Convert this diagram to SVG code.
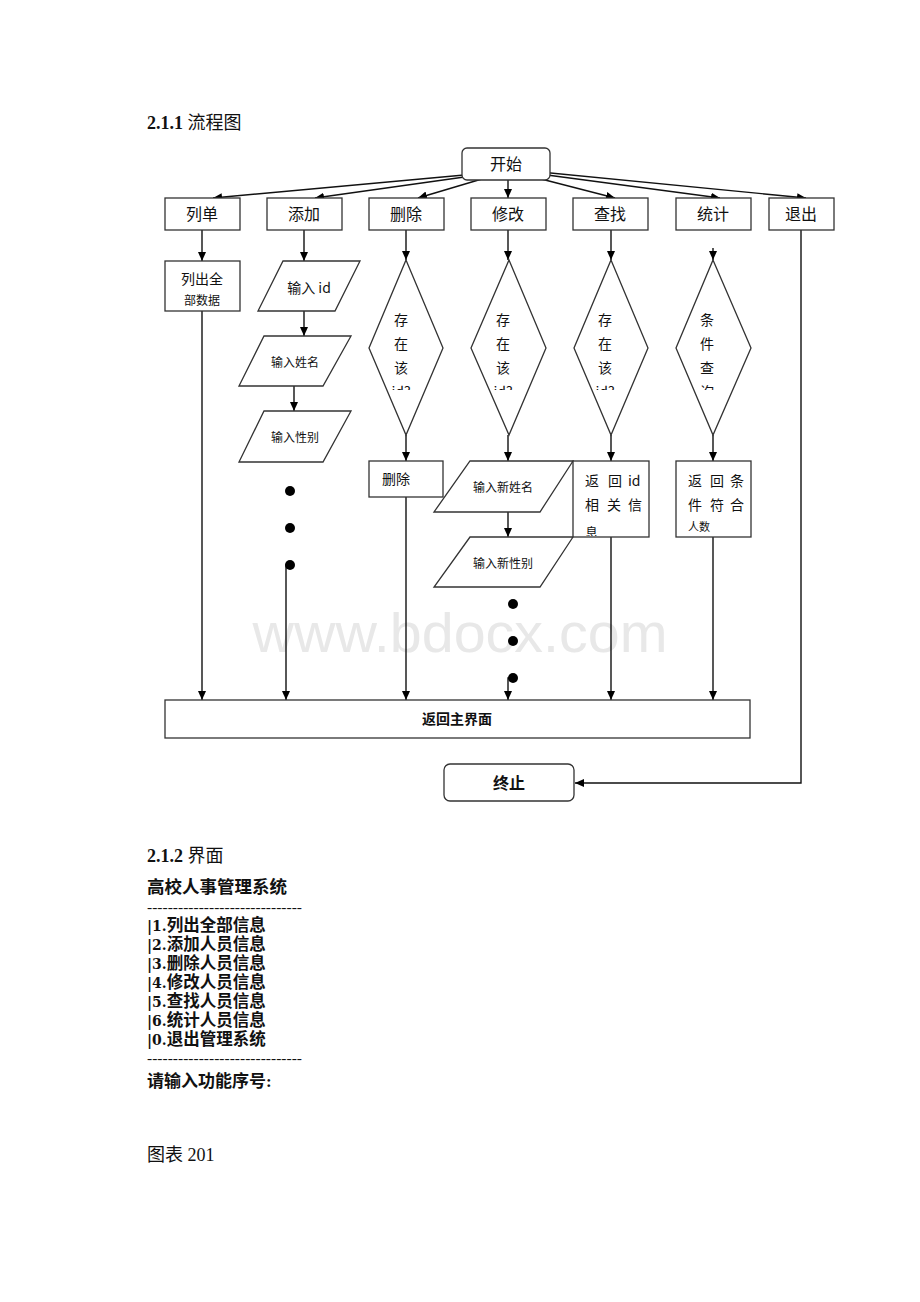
<svg xmlns="http://www.w3.org/2000/svg" width="920" height="1302" viewBox="0 0 920 1302">
<style>
.bx{fill:#fff;stroke:#333;stroke-width:1.3}
.ln{fill:none;stroke:#111;stroke-width:1.4}
.t{font-family:"Noto Sans CJK SC","DejaVu Sans",sans-serif;fill:#111}
.s16{font-size:16px}
.s14{font-size:14px}
.s12{font-size:12px}
.b{font-weight:bold}
.serif{font-family:"Liberation Serif","Noto Sans CJK SC",serif;fill:#111}
.pf{font-family:"DejaVu Serif","Liberation Serif",serif;font-size:14px}
.dash{font-size:12px}
.dot{fill:#000}
</style>
<defs>
<marker id="ah" markerWidth="10" markerHeight="10" refX="9" refY="5" orient="auto" markerUnits="userSpaceOnUse"><path d="M0,1 L9,5 L0,9 z" fill="#000"/></marker>
<clipPath id="cd"><rect x="360" y="300" width="400" height="90"/></clipPath>
<clipPath id="cb"><rect x="560" y="460" width="200" height="76"/></clipPath>
</defs>
<rect width="920" height="1302" fill="#fff"/>
<text x="460" y="652" text-anchor="middle" font-family="Liberation Sans,sans-serif" font-size="56" fill="#e8e8e8" textLength="415" lengthAdjust="spacingAndGlyphs">www.bdocx.com</text>
<text class="serif" x="147" y="129" font-size="18"><tspan font-weight="bold">2.1.1</tspan> 流程图</text>
<g id="connectors">
<path class="ln" d="M497,172 L213,198" marker-end="url(#ah)"/>
<path class="ln" d="M500,172 L315,198" marker-end="url(#ah)"/>
<path class="ln" d="M502,173 L418,198" marker-end="url(#ah)"/>
<path class="ln" d="M508,172 L508,198" marker-end="url(#ah)"/>
<path class="ln" d="M514,172 L615,198" marker-end="url(#ah)"/>
<path class="ln" d="M517,171 L720,198" marker-end="url(#ah)"/>
<path class="ln" d="M520,170 L806,198" marker-end="url(#ah)"/>
<path class="ln" d="M202,230 L202,261" marker-end="url(#ah)"/>
<path class="ln" d="M304,230 L304,261" marker-end="url(#ah)"/>
<path class="ln" d="M406,230 L406,260" marker-end="url(#ah)"/>
<path class="ln" d="M508,230 L508,260" marker-end="url(#ah)"/>
<path class="ln" d="M611,230 L611,260" marker-end="url(#ah)"/>
<path class="ln" d="M713,248 L713,260" marker-end="url(#ah)"/>
<path class="ln" d="M304,311 L304,336" marker-end="url(#ah)"/>
<path class="ln" d="M294,386 L294,411" marker-end="url(#ah)"/>
<path class="ln" d="M406,435 L406,461" marker-end="url(#ah)"/>
<path class="ln" d="M508,435 L508,461" marker-end="url(#ah)"/>
<path class="ln" d="M611,435 L611,461" marker-end="url(#ah)"/>
<path class="ln" d="M713,435 L713,461" marker-end="url(#ah)"/>
<path class="ln" d="M508,512 L508,537" marker-end="url(#ah)"/>
<path class="ln" d="M202,311 L202,700" marker-end="url(#ah)"/>
<path class="ln" d="M290,565 L286,565 L286,700" marker-end="url(#ah)"/>
<path class="ln" d="M406,497 L406,700" marker-end="url(#ah)"/>
<path class="ln" d="M513,678 L508,678 L508,700" marker-end="url(#ah)"/>
<path class="ln" d="M611,537 L611,700" marker-end="url(#ah)"/>
<path class="ln" d="M713,537 L713,700" marker-end="url(#ah)"/>
<path class="ln" d="M801,230 L801,783 L575,783" marker-end="url(#ah)"/>
</g>
<g id="start"><rect class="bx" x="462" y="148" width="88" height="32" rx="5"/><text class="t s16" x="506" y="170" text-anchor="middle">开始</text></g>
<g id="n-list"><rect class="bx" x="165" y="198" width="75" height="32"/><text class="t s16" x="202" y="220" text-anchor="middle">列单</text></g>
<g id="n-add"><rect class="bx" x="267" y="198" width="75" height="32"/><text class="t s16" x="304" y="220" text-anchor="middle">添加</text></g>
<g id="n-del"><rect class="bx" x="369" y="198" width="75" height="32"/><text class="t s16" x="406" y="220" text-anchor="middle">删除</text></g>
<g id="n-mod"><rect class="bx" x="471" y="198" width="75" height="32"/><text class="t s16" x="508" y="220" text-anchor="middle">修改</text></g>
<g id="n-find"><rect class="bx" x="573" y="198" width="75" height="32"/><text class="t s16" x="610" y="220" text-anchor="middle">查找</text></g>
<g id="n-stat"><rect class="bx" x="676" y="198" width="75" height="32"/><text class="t s16" x="713" y="220" text-anchor="middle">统计</text></g>
<g id="n-exit"><rect class="bx" x="769" y="198" width="65" height="32"/><text class="t s16" x="801" y="220" text-anchor="middle">退出</text></g>
<g id="list-all"><rect class="bx" x="165" y="261" width="75" height="50"/><text class="t s14" x="202" y="284" text-anchor="middle">列出全</text><text class="t s12" x="202" y="305" text-anchor="middle">部数据</text></g>
<g id="in-id"><polygon class="bx" points="283,261 360,261 335,311 258,311"/><text class="t s14" x="309" y="293" text-anchor="middle">输入 id</text></g>
<g id="in-name"><polygon class="bx" points="264,336 351,336 323,386 239,386"/><text class="t s12" x="295" y="367" text-anchor="middle">输入姓名</text></g>
<g id="in-sex"><polygon class="bx" points="264,411 351,411 323,462 239,462"/><text class="t s12" x="295" y="442" text-anchor="middle">输入性别</text></g>
<g id="dots-add"><circle class="dot" cx="290" cy="491" r="5"/><circle class="dot" cx="290" cy="528" r="5"/><circle class="dot" cx="290" cy="565" r="5"/></g>
<g id="dia-del"><polygon class="bx" points="406,260 443,348 406,435 369,348"/><g clip-path="url(#cd)" class="t s14"><text x="401" y="325" text-anchor="middle">存</text><text x="401" y="349" text-anchor="middle">在</text><text x="401" y="373" text-anchor="middle">该</text><text x="401" y="397" text-anchor="middle">id?</text></g></g>
<g id="dia-mod"><polygon class="bx" points="509,260 546,348 509,435 471,348"/><g clip-path="url(#cd)" class="t s14"><text x="503" y="325" text-anchor="middle">存</text><text x="503" y="349" text-anchor="middle">在</text><text x="503" y="373" text-anchor="middle">该</text><text x="503" y="397" text-anchor="middle">id?</text></g></g>
<g id="dia-find"><polygon class="bx" points="611,260 648,348 611,435 574,348"/><g clip-path="url(#cd)" class="t s14"><text x="605" y="325" text-anchor="middle">存</text><text x="605" y="349" text-anchor="middle">在</text><text x="605" y="373" text-anchor="middle">该</text><text x="605" y="397" text-anchor="middle">id?</text></g></g>
<g id="dia-stat"><polygon class="bx" points="713,260 751,348 713,435 676,348"/><g clip-path="url(#cd)" class="t s14"><text x="707" y="325" text-anchor="middle">条</text><text x="707" y="349" text-anchor="middle">件</text><text x="707" y="373" text-anchor="middle">查</text><text x="707" y="397" text-anchor="middle">询</text></g></g>
<g id="del-box"><rect class="bx" x="369" y="461" width="74" height="36"/><text class="t s14" x="382" y="484">删除</text></g>
<g id="in-newname"><polygon class="bx" points="470,461 573,461 540,512 434,512"/><text class="t s12" x="503" y="492" text-anchor="middle">输入新姓名</text></g>
<g id="in-newsex"><polygon class="bx" points="470,537 573,537 540,587 434,587"/><text class="t s12" x="503" y="568" text-anchor="middle">输入新性别</text></g>
<g id="dots-mod"><circle class="dot" cx="513" cy="604" r="5"/><circle class="dot" cx="513" cy="641" r="5"/><circle class="dot" cx="513" cy="678" r="5"/></g>
<g id="ret-id"><rect class="bx" x="573" y="461" width="76" height="76"/><g class="t s14" clip-path="url(#cb)"><text y="486"><tspan x="585">返</tspan><tspan x="608">回</tspan><tspan x="628">id</tspan></text><text y="510"><tspan x="585">相</tspan><tspan x="607">关</tspan><tspan x="628">信</tspan></text><text x="585" y="537" font-size="13">息</text></g></g>
<g id="ret-cnt"><rect class="bx" x="676" y="461" width="75" height="76"/><g class="t s14"><text y="486"><tspan x="688">返</tspan><tspan x="710">回</tspan><tspan x="730">条</tspan></text><text y="510"><tspan x="688">件</tspan><tspan x="710">符</tspan><tspan x="730">合</tspan></text><text x="688" y="531" font-size="11">人数</text></g></g>
<g id="main"><rect class="bx" x="165" y="700" width="585" height="38"/><text class="t s14 b" x="457" y="724" text-anchor="middle">返回主界面</text></g>
<g id="end"><rect class="bx" x="444" y="764" width="130" height="37" rx="6"/><text class="t s16 b" x="509" y="789" text-anchor="middle">终止</text></g>
<text class="serif" x="147" y="862" font-size="18"><tspan font-weight="bold">2.1.2</tspan> 界面</text>
<g class="serif" font-weight="bold" font-size="16.5">
<text x="147" y="893" font-size="17.5">高校人事管理系统</text>
<text class="dash" x="147" y="912" textLength="155" lengthAdjust="spacingAndGlyphs">------------------------------</text>
<text x="147" y="931"><tspan class="pf">|1.</tspan>列出全部信息</text>
<text x="147" y="950"><tspan class="pf">|2.</tspan>添加人员信息</text>
<text x="147" y="969"><tspan class="pf">|3.</tspan>删除人员信息</text>
<text x="147" y="988"><tspan class="pf">|4.</tspan>修改人员信息</text>
<text x="147" y="1007"><tspan class="pf">|5.</tspan>查找人员信息</text>
<text x="147" y="1026"><tspan class="pf">|6.</tspan>统计人员信息</text>
<text x="147" y="1045"><tspan class="pf">|0.</tspan>退出管理系统</text>
<text class="dash" x="147" y="1063" textLength="155" lengthAdjust="spacingAndGlyphs">------------------------------</text>
<text x="147" y="1087" font-size="17">请输入功能序号:</text>
</g>
<text class="serif" x="147" y="1161" font-size="18">图表 201</text>
</svg>
